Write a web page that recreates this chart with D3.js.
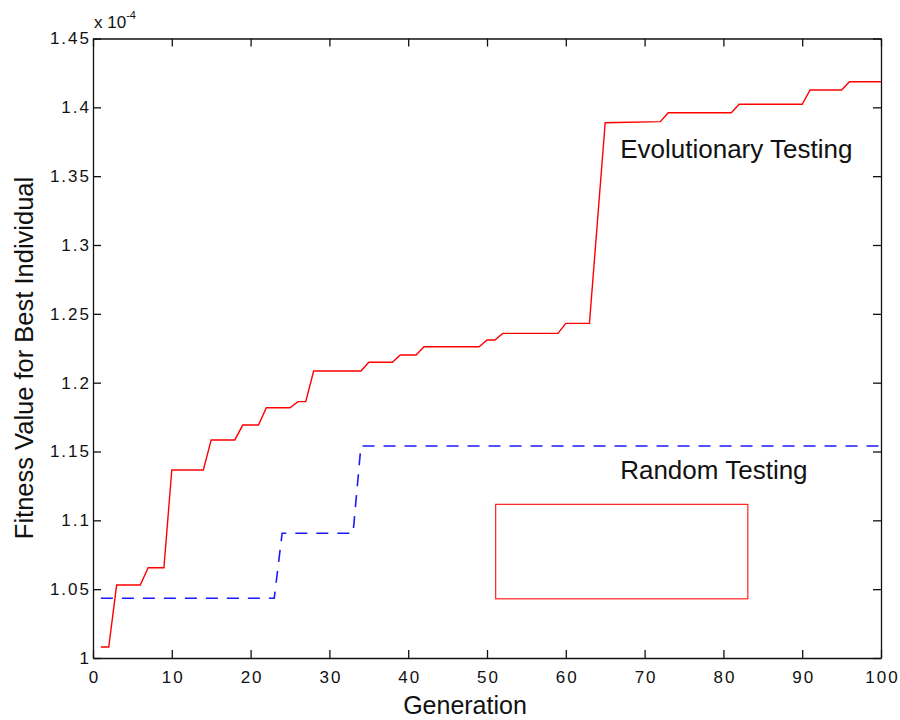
<!DOCTYPE html>
<html>
<head>
<meta charset="utf-8">
<script src="https://cdn.jsdelivr.net/npm/d3@7"></script>
<style>
  html, body { margin: 0; padding: 0; background: #fff; }
  svg { display: block; }
  .tick text { font-family: "Liberation Sans", Arial, Helvetica, sans-serif; font-size: 17px; letter-spacing: 2px; fill: #111; }
  .lbl { font-family: "Liberation Sans", Arial, Helvetica, sans-serif; fill: #111; }
</style>
</head>
<body>
<svg id="chart" width="900" height="720"></svg>
<script>
// ---- data ----
const evoGenerations = [1, 2, 3, 6, 7, 9, 10, 14, 15, 18, 19, 21, 22, 25, 26, 27, 28, 34, 35, 38, 39, 41, 42, 49, 50, 51, 52, 59, 60, 63, 64, 65, 72, 73, 81, 82, 90, 91, 95, 96, 100];
const evoFitness = [1.008, 1.008, 1.053, 1.053, 1.0656, 1.0656, 1.1366, 1.1366, 1.1584, 1.1584, 1.1692, 1.1692, 1.1818, 1.1818, 1.1862, 1.1862, 1.2085, 1.2085, 1.2148, 1.2148, 1.2201, 1.2201, 1.2261, 1.2261, 1.2310, 1.2310, 1.2358, 1.2358, 1.2431, 1.2431, 1.316, 1.3888, 1.3896, 1.3961, 1.3961, 1.4022, 1.4022, 1.4126, 1.4126, 1.4186, 1.4186];
const randGenerations = [1, 23, 24, 33, 34, 100];
const randFitness = [1.0434, 1.0434, 1.0906, 1.0906, 1.154, 1.154];
const xTicks = [0, 10, 20, 30, 40, 50, 60, 70, 80, 90, 100];
const yTicks = [1, 1.05, 1.1, 1.15, 1.2, 1.25, 1.3, 1.35, 1.4, 1.45];
const seriesLabels = ["Evolutionary Testing", "Random Testing"];
const labelGen = [66.9, 66.9];
const labelFit = [1.3634, 1.1298];
const boxGen = [51.1, 83.1];
const boxFit = [1.043, 1.1116];

// ---- layout ----
const mLeft = 93, mRight = 881, mTop = 38.5, mBottom = 658;
const svg = d3.select("#chart");
const x = d3.scaleLinear().domain([0, 100]).range([mLeft, mRight]);
const y = d3.scaleLinear().domain([1, 1.45]).range([mBottom, mTop]);
const fmt = d => String(+d.toFixed(2));

function styleAxis(g) {
  g.select(".domain").attr("stroke", "#111").attr("stroke-width", 1.3);
  g.selectAll(".tick line").attr("stroke", "#111").attr("stroke-width", 1.3);
}

svg.append("g").attr("transform", `translate(0,${mBottom})`)
  .call(d3.axisBottom(x).tickValues(xTicks).tickFormat(fmt).tickSizeInner(-8).tickSizeOuter(0).tickPadding(13))
  .call(styleAxis)
  .call(g => g.selectAll(".tick text").attr("dx", "1px"));
svg.append("g").attr("transform", `translate(0,${mTop})`)
  .call(d3.axisTop(x).tickValues(xTicks).tickFormat("").tickSizeInner(-8).tickSizeOuter(0))
  .call(styleAxis);
svg.append("g").attr("transform", `translate(${mLeft},0)`)
  .call(d3.axisLeft(y).tickValues(yTicks).tickFormat(fmt).tickSizeInner(-8).tickSizeOuter(0).tickPadding(2))
  .call(styleAxis);
svg.append("g").attr("transform", `translate(${mRight},0)`)
  .call(d3.axisRight(y).tickValues(yTicks).tickFormat("").tickSizeInner(-8).tickSizeOuter(0))
  .call(styleAxis);

// ---- lines ----
const line = d3.line().x(d => x(d[0])).y(d => y(d[1]));
const randData = randGenerations.map((g, i) => [g, randFitness[i]]);
const evoData = evoGenerations.map((g, i) => [g, evoFitness[i]]);

svg.append("path").datum(randData)
  .attr("d", line).attr("fill", "none").attr("stroke", "#1a1aff")
  .attr("stroke-width", 1.6).attr("stroke-dasharray", "12,9");
svg.append("path").datum(evoData)
  .attr("d", line).attr("fill", "none").attr("stroke", "#ff0000")
  .attr("stroke-width", 1.4);

// ---- annotation box ----
svg.append("rect")
  .attr("x", x(boxGen[0])).attr("y", y(boxFit[1]))
  .attr("width", x(boxGen[1]) - x(boxGen[0]))
  .attr("height", y(boxFit[0]) - y(boxFit[1]))
  .attr("fill", "none").attr("stroke", "#ff2020").attr("stroke-width", 1.2);

// ---- text labels ----
seriesLabels.forEach((t, i) => {
  svg.append("text").attr("class", "lbl")
    .attr("x", x(labelGen[i])).attr("y", y(labelFit[i]))
    .attr("font-size", 26).text(t);
});

svg.append("text").attr("class", "lbl")
  .attr("x", 465).attr("y", 714).attr("text-anchor", "middle")
  .attr("font-size", 25).text("Generation");

svg.append("text").attr("class", "lbl")
  .attr("transform", "translate(33,358) rotate(-90)")
  .attr("text-anchor", "middle").attr("font-size", 25.5)
  .text("Fitness Value for Best Individual");

const mult = svg.append("text").attr("class", "lbl")
  .attr("x", 94).attr("y", 28).attr("font-size", 17);
mult.append("tspan").text("x 10");
mult.append("tspan").attr("dy", -9).attr("font-size", 11).text("-4");
</script>
</body>
</html>
